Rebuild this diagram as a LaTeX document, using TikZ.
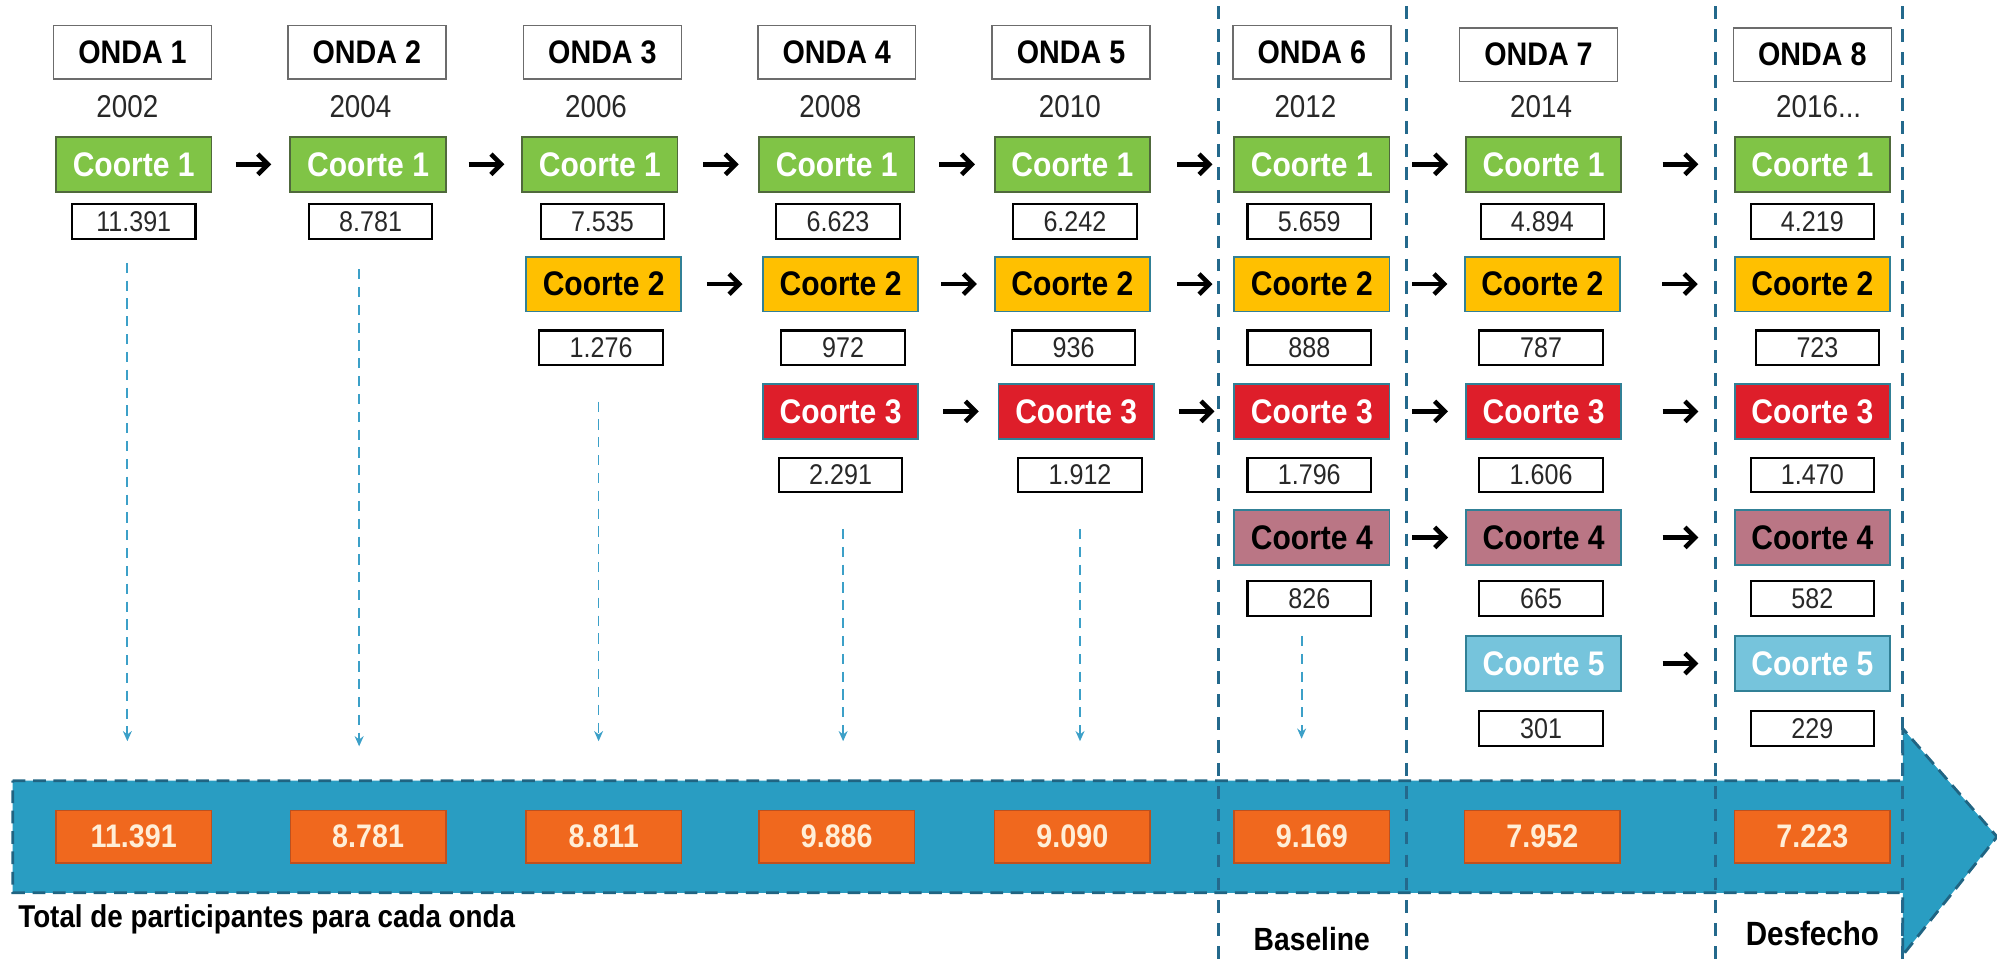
\documentclass[tikz,border=0pt]{standalone}
\usepackage{fontspec}
\setmainfont[FakeStretch=0.88]{Liberation Sans}
\usetikzlibrary{calc,arrows.meta}
\definecolor{cgreen}{RGB}{128,196,70}
\definecolor{cgreenb}{RGB}{80,105,60}
\definecolor{cyellow}{RGB}{255,192,0}
\definecolor{cred}{RGB}{222,30,42}
\definecolor{cmauve}{RGB}{186,118,133}
\definecolor{clblue}{RGB}{118,196,220}
\definecolor{cteal}{RGB}{49,128,150}
\definecolor{corange}{RGB}{240,104,30}
\definecolor{corangeb}{RGB}{190,80,30}
\definecolor{ccream}{RGB}{255,238,215}
\definecolor{cband}{RGB}{41,157,194}
\definecolor{cbandb}{RGB}{32,100,130}
\definecolor{csep}{RGB}{36,105,140}
\definecolor{cdrop}{RGB}{60,160,200}
\definecolor{cyear}{RGB}{40,40,40}
\tikzset{
  onda/.style={draw=gray!85!black, line width=0.6pt, fill=white, minimum width=62pt, minimum height=21pt, inner sep=0pt, font=\fontsize{12.8}{13}\selectfont\bfseries},
  yr/.style={inner sep=0pt, text=cyear, font=\fontsize{12.4}{13}\selectfont},
  coorte/.style={minimum width=61pt, minimum height=21.5pt, inner sep=0pt, line width=0.7pt, font=\fontsize{13.4}{14}\selectfont\bfseries},
  ca/.style={coorte, fill=cgreen, draw=cgreenb, text=white},
  cb/.style={coorte, fill=cyellow, draw=cteal, text=black},
  cc/.style={coorte, fill=cred, draw=cteal, text=white},
  cd/.style={coorte, fill=cmauve, draw=cteal, text=black},
  ce/.style={coorte, fill=clblue, draw=cteal, text=white},
  numbox/.style={draw=black, line width=0.8pt, fill=white, minimum width=48.5pt, minimum height=13.5pt, inner sep=0pt, text=cyear, font=\fontsize{11.2}{12}\selectfont},
  tot/.style={fill=corange, draw=corangeb, line width=0.6pt, minimum width=61pt, minimum height=20.5pt, inner sep=0pt, text=ccream, font=\fontsize{12.8}{13}\selectfont\bfseries},
  flow/.style={-{Straight Barb[length=4pt,width=8pt]}, line width=1.8pt, black},
  drop/.style={dash pattern=on 4pt off 3pt, line width=0.7pt, color=cdrop, -{Stealth[length=4pt,width=3.5pt]}},
  sep/.style={dash pattern=on 5pt off 4pt, line width=1.2pt, color=csep},
  bandline/.style={dash pattern=on 5pt off 3pt, line width=1.1pt, draw=cbandb, fill=cband},
  lbl/.style={inner sep=0pt, font=\fontsize{12.6}{13}\selectfont\bfseries},
}
\begin{document}
\begin{tikzpicture}[x=0.5pt, y=-0.5pt]
\useasboundingbox (0,0) rectangle (1568,757);
% band arrow
\coordinate (b1) at (10,613);
\coordinate (b2) at (1494,613);
\coordinate (b3) at (1494,572);
\coordinate (b4) at (1568,657);
\coordinate (b5) at (1494,750);
\coordinate (b6) at (1494,701);
\coordinate (b7) at (10,701);
\draw[bandline] (b1) -- (b2) -- (b3) -- (b4) -- (b5) -- (b6) -- (b7) -- cycle;
% separators
\foreach \i/\x in {1/957,2/1104,3/1347,4/1494}{
  \coordinate (s\i t) at (\x,5);
  \coordinate (s\i b) at (\x,757);
  \draw[sep] (s\i t) -- (s\i b);
}
% headers and years
\foreach \i/\x/\y in {1/104/41,2/288/41,3/473/41,4/657/41,5/841/41,6/1030/41,7/1208/43,8/1423/43}
  \node[onda] (o\i) at (\x,\y) {ONDA \i};
\foreach \i/\x/\t in {1/100/2002,2/283/2004,3/468/2006,4/652/2008,5/840/2010,6/1025/2012,7/1210/2014,8/1428/{2016...}}
  \node[yr] (y\i) at (\x,84) {\t};
% cohort boxes
\foreach \i/\x in {1/105,2/289,3/471,4/657,5/842,6/1030,7/1212,8/1423}
  \node[ca] (c1-\i) at (\x,129) {Coorte 1};
\foreach \i/\x in {3/474,4/660,5/842,6/1030,7/1211,8/1423}
  \node[cb] (c2-\i) at (\x,223) {Coorte 2};
\foreach \i/\x in {4/660,5/845,6/1030,7/1212,8/1423}
  \node[cc] (c3-\i) at (\x,323) {Coorte 3};
\foreach \i/\x in {6/1030,7/1212,8/1423}
  \node[cd] (c4-\i) at (\x,422) {Coorte 4};
\foreach \i/\x in {7/1212,8/1423}
  \node[ce] (c5-\i) at (\x,521) {Coorte 5};
% number boxes
\foreach \i/\x/\t in {1/105/11.391,2/291/8.781,3/473/7.535,4/658/6.623,5/844/6.242,6/1028/5.659,7/1211/4.894,8/1423/4.219}
  \node[numbox] (n1-\i) at (\x,174) {\t};
\foreach \i/\x/\t in {3/472/1.276,4/662/972,5/843/936,6/1028/888,7/1210/787,8/1427/723}
  \node[numbox] (n2-\i) at (\x,273) {\t};
\foreach \i/\x/\t in {4/660/2.291,5/848/1.912,6/1028/1.796,7/1210/1.606,8/1423/1.470}
  \node[numbox] (n3-\i) at (\x,373) {\t};
\foreach \i/\x/\t in {6/1028/826,7/1210/665,8/1423/582}
  \node[numbox] (n4-\i) at (\x,470) {\t};
\foreach \i/\x/\t in {7/1210/301,8/1423/229}
  \node[numbox] (n5-\i) at (\x,572) {\t};
% flow arrows
\foreach \r/\a/\b in {1/1/2,1/2/3,1/3/4,1/4/5,1/5/6,1/6/7,1/7/8,
                      2/3/4,2/4/5,2/5/6,2/6/7,2/7/8,
                      3/4/5,3/5/6,3/6/7,3/7/8,
                      4/6/7,4/7/8,
                      5/7/8}
  \draw[flow] ($(c\r-\a.east)!0.5!(c\r-\b.west)+(-12,0)$) -- ($(c\r-\a.east)!0.5!(c\r-\b.west)+(16,0)$);
% drop arrows
\coordinate (e1) at (100,582);
\coordinate (e2) at (282,586);
\coordinate (e3) at (470,582);
\coordinate (e4) at (662,582);
\coordinate (e5) at (848,582);
\coordinate (e6) at (1022,580);
\draw[drop] ($(e1|-n1-1.south)+(0,18)$) -- (e1);
\draw[drop] ($(e2|-n1-2.south)+(0,23)$) -- (e2);
\draw[drop] ($(e3|-n2-3.south)+(0,28)$) -- (e3);
\draw[drop] ($(e4|-n3-4.south)+(0,28)$) -- (e4);
\draw[drop] ($(e5|-n3-5.south)+(0,28)$) -- (e5);
\draw[drop] ($(e6|-n4-6.south)+(0,15)$) -- (e6);
% totals
\foreach \i/\x/\t in {1/105/11.391,2/289/8.781,3/474/8.811,4/657/9.886,5/842/9.090,6/1030/9.169,7/1211/7.952,8/1423/7.223}
  \node[tot] (t\i) at (\x,657) {\t};
% labels
\node[lbl, anchor=west, font=\fontsize{12.4}{13}\selectfont\bfseries] (ltot) at (14,722) {Total de participantes para cada onda};
\node[lbl] (lbase) at (1030,737) {Baseline};
\node[lbl, font=\fontsize{13.2}{14}\selectfont\bfseries] (ldes) at (1423,733) {Desfecho};
\end{tikzpicture}
\end{document}
